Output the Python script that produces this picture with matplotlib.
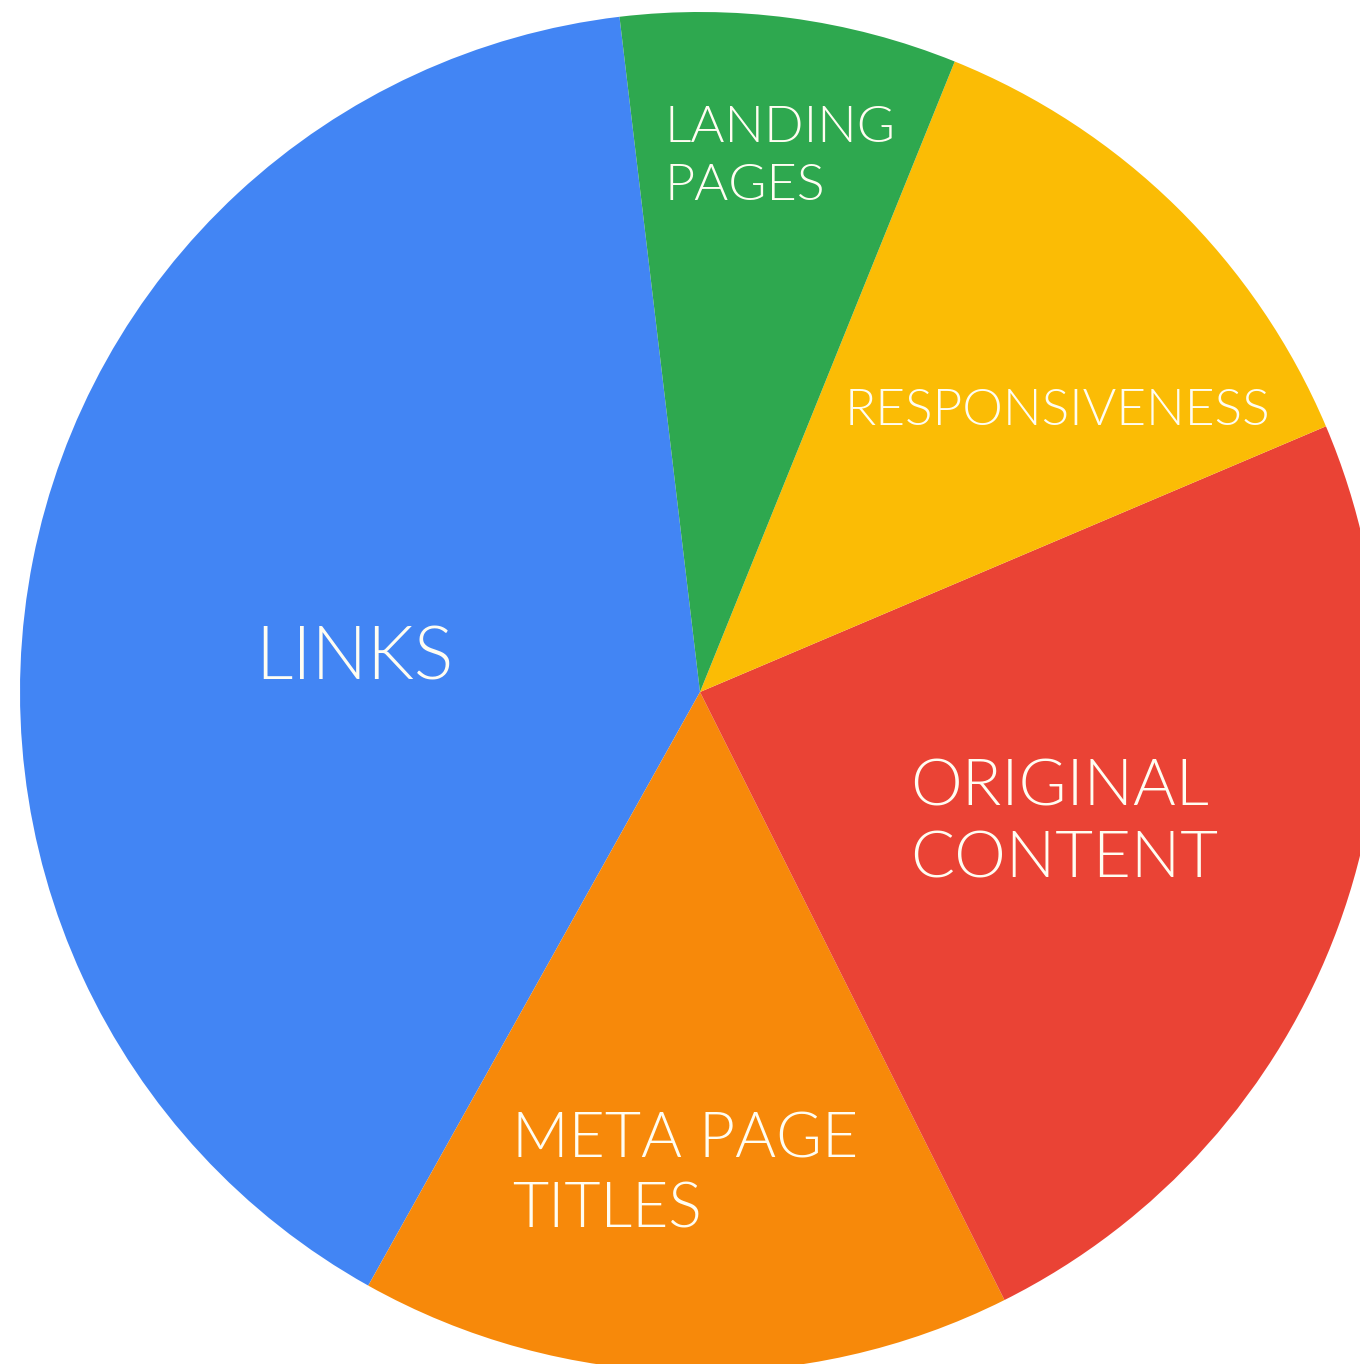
import matplotlib
matplotlib.use('Agg')
import matplotlib.pyplot as plt
from matplotlib import font_manager

# datos del grafico (porcentajes)
categorias = ["LINKS", "META PAGE\nTITLES", "ORIGINAL\nCONTENT", "RESPONSIVENESS", "LANDING\nPAGES"]
valores = [40, 15.5, 24, 12.5, 8]

colores = ["#4285F4", "#F7890A", "#EA4335", "#FBBC05", "#2EA84F"]

# posicion (x, baseline de cada linea) en pixeles de la imagen, y tamano
posiciones = {
    "LINKS": (255, [680], 53),
    "META PAGE\nTITLES": (512, [1157, 1228], 45),
    "ORIGINAL\nCONTENT": (910, [805, 878], 47),
    "RESPONSIVENESS": (845, [425], 37),
    "LANDING\nPAGES": (665, [142, 200], 37.5),
}

# buscar el archivo de Lato Light
ruta_light = None
for f in font_manager.fontManager.ttflist:
    if f.fname.endswith("Lato-Light.ttf"):
        ruta_light = f.fname
        break

W, H = 1360, 1364
fig = plt.figure(figsize=(W / 100, H / 100), dpi=100)
ax = fig.add_axes([0, 0, 1, 1])

ax.pie(valores,
       colors=colores,
       startangle=96.8,
       counterclock=True,
       radius=680,
       center=(700, H - 692),
       wedgeprops={"linewidth": 0, "antialiased": True})

for cat in categorias:
    x, bases, tam = posiciones[cat]
    if ruta_light:
        fp = font_manager.FontProperties(fname=ruta_light, size=tam)
    else:
        fp = font_manager.FontProperties(family="Lato", size=tam)
    for linea, yb in zip(cat.split("\n"), bases):
        ax.text(x, H - yb, linea,
                ha="left", va="baseline",
                fontproperties=fp,
                color="#FFFDF2")

ax.set_xlim(0, W)
ax.set_ylim(0, H)
ax.set_aspect("equal")
ax.axis("off")

plt.savefig("out.png", dpi=100, facecolor="white")
plt.close()
